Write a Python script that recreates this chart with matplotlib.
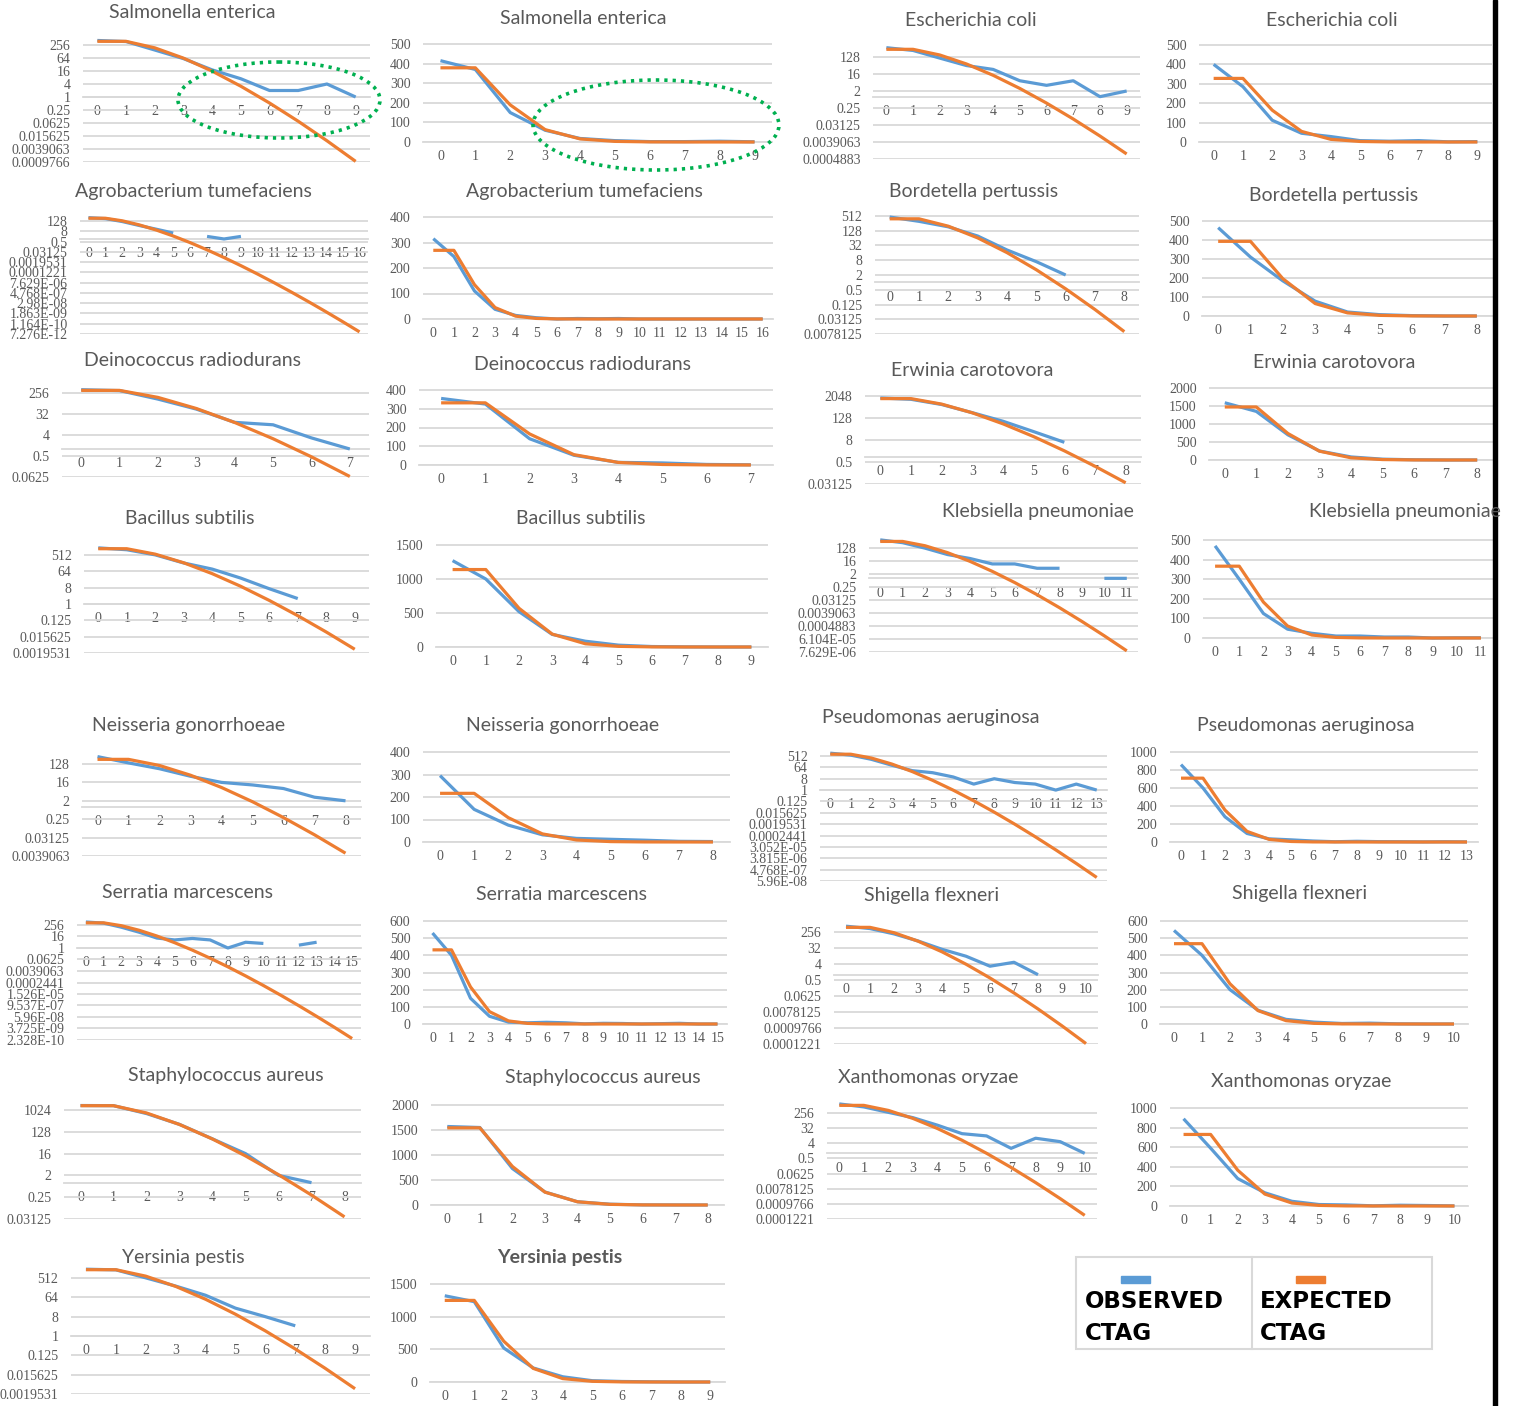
import numpy as np
import matplotlib
matplotlib.use("Agg")
import matplotlib.pyplot as plt
from matplotlib.patches import Ellipse, Rectangle
from matplotlib.ticker import FixedLocator, NullLocator

W_PX, H_PX, DPI = 1521, 1406, 100

BLUE = "#5B9BD5"
ORANGE = "#ED7D31"
GRID = "#D9D9D9"
TEXT = "#595959"
TITLE_FONT = ["Lato", "DejaVu Sans"]
TICK_FONT = ["Liberation Serif", "DejaVu Serif"]

# ---------------- data: CTAG counts per window (observed / expected) ----------------
observed_salmonella = [415, 370, 150, 60, 18, 7, 2, 2, 4, 1]
expected_salmonella = [378.5, 378.5, 189.3, 63.09, 15.77, 3.155, 0.5258, 0.07511, 0.009389, 0.001043]

observed_ecoli = [400, 285, 112, 45, 28, 7, 4, 7, 1, 2]
expected_ecoli = [327.8, 327.8, 163.9, 54.63, 13.66, 2.731, 0.4553, 0.06504, 0.008129, 0.0009033]

observed_agro = [315, 245, 110, 38, 14, 5, 0, 2, 1, 2, 0, 0, 0, 0, 0, 0, 0]
expected_agro = [269.3, 269.3, 134.6, 44.88, 11.22, 2.244, 0.3740, 0.05343, 0.006679, 0.0007421,
                 7.421e-5, 6.746e-6, 5.622e-7, 4.325e-8, 3.089e-9, 2.059e-10, 1.287e-11]

observed_bordetella = [465, 310, 185, 78, 21, 7, 2, 0, 0]
expected_bordetella = [392.9, 392.9, 196.4, 65.48, 16.37, 3.274, 0.5457, 0.07796, 0.009744]

observed_deino = [355, 325, 140, 52, 14, 11, 3, 1]
expected_deino = [331.5, 331.5, 165.7, 55.24, 13.81, 2.762, 0.4604, 0.06577]

observed_erwinia = [1590, 1350, 700, 250, 85, 23, 6, 0, 0]
expected_erwinia = [1473, 1473, 736.5, 245.5, 61.37, 12.27, 2.046, 0.2923, 0.03653]

observed_bacillus = [1270, 1000, 520, 185, 85, 27, 7, 2, 0, 0]
expected_bacillus = [1139, 1139, 569.5, 189.8, 47.46, 9.491, 1.582, 0.2260, 0.02825, 0.003139]

observed_klebsiella = [470, 300, 125, 45, 24, 10, 10, 5, 5, 0, 1, 1]
expected_klebsiella = [366.4, 366.4, 183.2, 61.07, 15.27, 3.053, 0.5089, 0.07270, 0.009087, 0.001010,
                       0.0001010, 9.179e-6]

observed_neisseria = [295, 145, 75, 32, 16, 12, 8, 3, 2]
expected_neisseria = [216.3, 216.3, 108.2, 36.05, 9.013, 1.803, 0.3004, 0.04292, 0.005365]

observed_pseudomonas = [860, 600, 280, 95, 35, 24, 11, 3, 8, 4, 3, 1, 3, 1]
expected_pseudomonas = [709.3, 709.3, 354.6, 118.2, 29.55, 5.911, 0.9851, 0.1407, 0.01759, 0.001955,
                        0.0001955, 1.777e-5, 1.481e-6, 1.139e-7]

observed_serratia = [530, 400, 150, 45, 11, 7, 10, 7, 1, 4, 3, 0, 2, 4, 0, 0]
expected_serratia = [431.9, 431.9, 215.9, 71.98, 18.00, 3.599, 0.5998, 0.08569, 0.01071, 0.001190,
                     0.0001190, 1.082e-5, 9.016e-7, 6.936e-8, 4.954e-9, 3.303e-10]

observed_shigella = [545, 400, 200, 80, 27, 11, 3, 5, 1, 0, 0]
expected_shigella = [467.9, 467.9, 234.0, 77.99, 19.50, 3.900, 0.6499, 0.09285, 0.01161, 0.001290, 0.0001290]

observed_staph = [1570, 1550, 730, 260, 65, 16, 2, 1, 0]
expected_staph = [1543, 1543, 771.4, 257.1, 64.29, 12.86, 2.143, 0.3061, 0.03827]

observed_xantho = [890, 590, 280, 135, 48, 15, 11, 2, 8, 5, 1]
expected_xantho = [730.2, 730.2, 365.1, 121.7, 30.43, 6.085, 1.014, 0.1449, 0.01811, 0.002012, 0.0002012]

observed_yersinia = [1320, 1230, 520, 215, 80, 20, 8, 3, 0, 0]
expected_yersinia = [1249, 1249, 624.7, 208.2, 52.06, 10.41, 1.735, 0.2479, 0.03099, 0.003443]

# ---------------- tick labels ----------------
logticks_salmonella = ["256", "64", "16", "4", "1", "0.25", "0.0625", "0.015625", "0.0039063", "0.0009766"]
logticks_ecoli = ["128", "16", "2", "0.25", "0.03125", "0.0039063", "0.0004883"]
logticks_agro = ["128", "8", "0.5", "0.03125", "0.0019531", "0.0001221", "7.629E-06", "4.768E-07",
                 "2.98E-08", "1.863E-09", "1.164E-10", "7.276E-12"]
logticks_bordetella = ["512", "128", "32", "8", "2", "0.5", "0.125", "0.03125", "0.0078125"]
logticks_deino = ["256", "32", "4", "0.5", "0.0625"]
logticks_erwinia = ["2048", "128", "8", "0.5", "0.03125"]
logticks_bacillus = ["512", "64", "8", "1", "0.125", "0.015625", "0.0019531"]
logticks_klebsiella = ["128", "16", "2", "0.25", "0.03125", "0.0039063", "0.0004883", "6.104E-05", "7.629E-06"]
logticks_neisseria = ["128", "16", "2", "0.25", "0.03125", "0.0039063"]
logticks_pseudomonas = ["512", "64", "8", "1", "0.125", "0.015625", "0.0019531", "0.0002441", "3.052E-05",
                        "3.815E-06", "4.768E-07", "5.96E-08"]
logticks_serratia = ["256", "16", "1", "0.0625", "0.0039063", "0.0002441", "1.526E-05", "9.537E-07",
                     "5.96E-08", "3.725E-09", "2.328E-10"]
logticks_shigella = ["256", "32", "4", "0.5", "0.0625", "0.0078125", "0.0009766", "0.0001221"]
logticks_staph = ["1024", "128", "16", "2", "0.25", "0.03125"]
logticks_xantho = ["256", "32", "4", "0.5", "0.0625", "0.0078125", "0.0009766", "0.0001221"]
logticks_yersinia = ["512", "64", "8", "1", "0.125", "0.015625", "0.0019531"]

# linear axes: (maximum, step)
linaxis_salmonella = (500, 100)
linaxis_ecoli = (500, 100)
linaxis_agro = (400, 100)
linaxis_bordetella = (500, 100)
linaxis_deino = (400, 100)
linaxis_erwinia = (2000, 500)
linaxis_bacillus = (1500, 500)
linaxis_klebsiella = (500, 100)
linaxis_neisseria = (400, 100)
linaxis_pseudomonas = (1000, 200)
linaxis_serratia = (600, 100)
linaxis_shigella = (600, 100)
linaxis_staph = (2000, 500)
linaxis_xantho = (1000, 200)
linaxis_yersinia = (1500, 500)

species = [
    ("Salmonella enterica", observed_salmonella, expected_salmonella, logticks_salmonella, linaxis_salmonella),
    ("Escherichia coli", observed_ecoli, expected_ecoli, logticks_ecoli, linaxis_ecoli),
    ("Agrobacterium tumefaciens", observed_agro, expected_agro, logticks_agro, linaxis_agro),
    ("Bordetella pertussis", observed_bordetella, expected_bordetella, logticks_bordetella, linaxis_bordetella),
    ("Deinococcus radiodurans", observed_deino, expected_deino, logticks_deino, linaxis_deino),
    ("Erwinia carotovora", observed_erwinia, expected_erwinia, logticks_erwinia, linaxis_erwinia),
    ("Bacillus subtilis", observed_bacillus, expected_bacillus, logticks_bacillus, linaxis_bacillus),
    ("Klebsiella pneumoniae", observed_klebsiella, expected_klebsiella, logticks_klebsiella, linaxis_klebsiella),
    ("Neisseria gonorrhoeae", observed_neisseria, expected_neisseria, logticks_neisseria, linaxis_neisseria),
    ("Pseudomonas aeruginosa", observed_pseudomonas, expected_pseudomonas, logticks_pseudomonas, linaxis_pseudomonas),
    ("Serratia marcescens", observed_serratia, expected_serratia, logticks_serratia, linaxis_serratia),
    ("Shigella flexneri", observed_shigella, expected_shigella, logticks_shigella, linaxis_shigella),
    ("Staphylococcus aureus", observed_staph, expected_staph, logticks_staph, linaxis_staph),
    ("Xanthomonas oryzae", observed_xantho, expected_xantho, logticks_xantho, linaxis_xantho),
    ("Yersinia pestis", observed_yersinia, expected_yersinia, logticks_yersinia, linaxis_yersinia),
]

# ---------------- layout (pixels): left, right, top-gridline y, bottom-gridline y, title x, title y ----------------
log_boxes = [
    (83, 370, 45, 162, 192, 13),
    (873, 1140, 57, 159, 971, 20),
    (80, 368, 221, 334, 193, 191),
    (875, 1139, 216, 334, 974, 191),
    (62, 369, 393, 477, 193, 360),
    (865, 1141, 396, 484, 972, 371),
    (84, 369, 555, 653, 190, 519),
    (869, 1138, 548, 652, 1038, 512),
    (82, 361, 764, 856, 189, 726),
    (820, 1107, 756, 881, 931, 718),
    (77, 361, 925, 1040, 187, 893),
    (834, 1098, 932, 1044, 932, 895),
    (64, 361, 1110, 1219, 226, 1076),
    (827, 1097, 1113, 1219, 928, 1077),
    (71, 370, 1278, 1394, 183, 1258),
]
lin_boxes = [
    (423, 772, 44, 142, 583, 19),
    (1199, 1492, 45, 142, 1332, 20),
    (423, 773, 217, 319, 584, 192),
    (1202, 1493, 221, 316, 1334, 196),
    (419, 773, 390, 465, 582, 365),
    (1209, 1493, 388, 460, 1334, 363),
    (436, 768, 545, 647, 581, 519),
    (1203, 1493, 540, 638, 1405, 512),
    (423, 730, 752, 842, 563, 726),
    (1170, 1478, 752, 842, 1306, 726),
    (423, 727, 921, 1024, 561, 895),
    (1160, 1468, 921, 1024, 1300, 894),
    (431, 724, 1105, 1205, 603, 1078),
    (1170, 1468, 1108, 1206, 1301, 1081),
    (430, 725, 1284, 1382, 560, 1258),
]

TOP_MARGIN = 14  # px of headroom above the top gridline
TICK_SIZE = 10

fig = plt.figure(figsize=(W_PX / DPI, H_PX / DPI), dpi=DPI)
fig.patch.set_facecolor("white")


def make_axes(left, right, top, bottom):
    return fig.add_axes([left / W_PX, 1 - bottom / H_PX,
                         (right - left) / W_PX, (bottom - top + TOP_MARGIN) / H_PX])


def style_axes(ax, n, ticks, labels):
    ax.set_facecolor("none")
    for side in ("top", "right", "left"):
        ax.spines[side].set_visible(False)
    ax.spines["bottom"].set_color(GRID)
    ax.spines["bottom"].set_linewidth(1.3)
    ax.set_xlim(-0.5, n - 0.5)
    ax.set_xticks(range(n))
    ax.set_xticklabels([str(i) for i in range(n)], fontfamily=TICK_FONT, fontsize=TICK_SIZE, color=TEXT)
    ax.yaxis.set_major_locator(FixedLocator(ticks))
    ax.yaxis.set_minor_locator(NullLocator())
    ax.set_yticklabels(labels, fontfamily=TICK_FONT, fontsize=TICK_SIZE, color=TEXT)
    ax.tick_params(axis="x", length=0, pad=6.0)
    ax.tick_params(axis="y", length=0, pad=9)
    ax.yaxis.grid(True, color=GRID, linewidth=1.3)
    ax.set_axisbelow(True)


def draw_series(ax, x, obs, exp):
    ax.plot(x, obs, color=BLUE, lw=2.3, solid_joinstyle="round", solid_capstyle="butt", clip_on=False, zorder=3)
    ax.plot(x, exp, color=ORANGE, lw=2.3, solid_joinstyle="round", solid_capstyle="butt", clip_on=False, zorder=4)


for idx, (name, obs, exp, tlabels, (lmax, lstep)) in enumerate(species):
    n = len(obs)
    x = np.arange(n)

    # ---- log-scale panel (zero counts leave a gap) ----
    L, R, T, B, tx, ty = log_boxes[idx]
    ax = make_axes(L, R, T, B)
    ax.set_yscale("log", base=2)
    tvals = [float(s) for s in tlabels]
    lo, hi = np.log2(min(tvals)), np.log2(max(tvals))
    top = hi + TOP_MARGIN * (hi - lo) / (B - T)
    ax.set_ylim(2 ** lo, 2 ** top)
    ax.spines["bottom"].set_position(("data", 1))  # category axis crosses at 1
    style_axes(ax, n, tvals, tlabels)
    obs_log = np.where(np.asarray(obs, float) > 0, obs, np.nan)
    draw_series(ax, x, obs_log, exp)
    fig.text(tx / W_PX, 1 - ty / H_PX, name, ha="center", va="center",
             fontfamily=TITLE_FONT, fontsize=14, color=TEXT)

    # ---- linear-scale panel ----
    L, R, T, B, tx, ty = lin_boxes[idx]
    ax = make_axes(L, R, T, B)
    lticks = list(range(0, lmax + 1, lstep))
    ax.set_ylim(0, lmax + TOP_MARGIN * lmax / (B - T))
    style_axes(ax, n, lticks, [str(v) for v in lticks])
    draw_series(ax, x, obs, exp)
    fig.text(tx / W_PX, 1 - ty / H_PX, name, ha="center", va="center",
             fontfamily=TITLE_FONT, fontsize=14, color=TEXT,
             fontweight="bold" if name == "Yersinia pestis" else "normal")

# ---------------- overlay: highlight ellipses, legend, right border ----------------
ov = fig.add_axes([0, 0, 1, 1])
ov.set_xlim(0, W_PX)
ov.set_ylim(H_PX, 0)
ov.axis("off")
ov.patch.set_alpha(0)

for cx, cy, ew, eh in [(279, 100, 202, 76), (656, 125, 246, 90)]:
    ov.add_patch(Ellipse((cx, cy), ew, eh, fill=False, edgecolor="#00B050", lw=2.6,
                         linestyle=(0, (0.9, 1.4)), capstyle="butt", zorder=10))

# legend box
ov.add_patch(Rectangle((1076, 1257), 356, 92, fill=False, edgecolor=GRID, lw=1.5, zorder=10))
ov.plot([1252, 1252], [1257, 1349], color=GRID, lw=1.5, zorder=10)
ov.add_patch(Rectangle((1121, 1276), 29, 7, color=BLUE, zorder=11))
ov.add_patch(Rectangle((1296, 1276), 29, 7, color=ORANGE, zorder=11))
for lx, word in [(1085, "OBSERVED"), (1260, "EXPECTED")]:
    ov.text(lx, 1302, word, ha="left", va="center", fontfamily="DejaVu Sans",
            fontweight="bold", fontsize=16.5, color="black", zorder=11)
    ov.text(lx, 1334, "CTAG", ha="left", va="center", fontfamily="DejaVu Sans",
            fontweight="bold", fontsize=16.5, color="black", zorder=11)

# right border bar
ov.add_patch(Rectangle((1493, 0), 4, H_PX, color="black", zorder=12))

fig.savefig("out.png", dpi=DPI, facecolor="white")
